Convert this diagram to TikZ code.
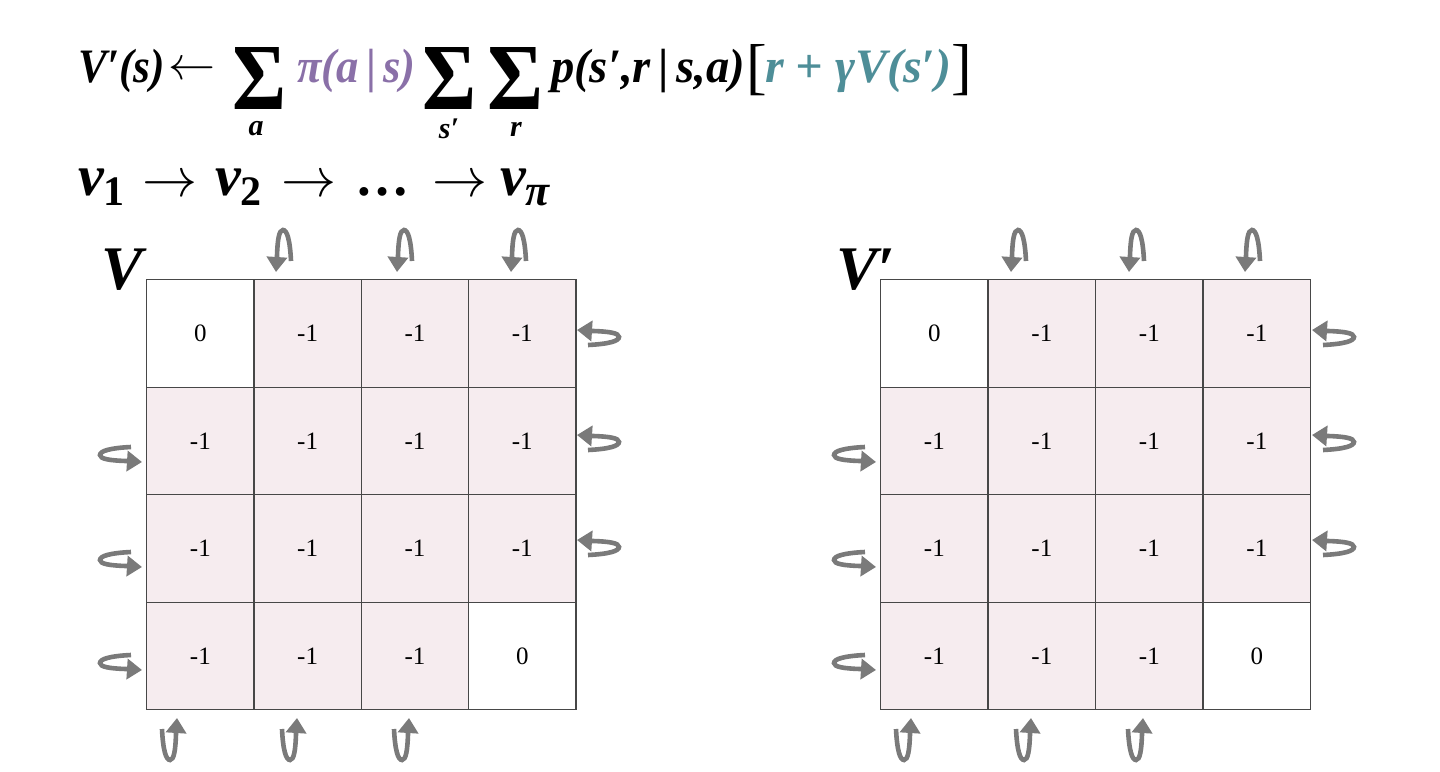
\documentclass[tikz,border=0pt]{standalone}
\usepackage{fontspec}
\setmainfont{Liberation Serif}
\usetikzlibrary{arrows.meta}
\definecolor{cellpink}{HTML}{F6ECEF}
\definecolor{gridline}{HTML}{474747}
\definecolor{loopgray}{HTML}{7A7A7A}
\definecolor{pipurple}{HTML}{8A70A8}
\definecolor{tealc}{HTML}{4E8E98}
\newcommand{\hsq}[2]{\scalebox{#1}[1]{#2}}
\tikzset{
  cell/.style={draw=gridline, line width=1.4pt, minimum width=107.3pt, minimum height=107.5pt, inner sep=0pt, font=\fontsize{25}{25}\selectfont, anchor=north west},
  pinkcell/.style={cell, fill=cellpink},
  whitecell/.style={cell, fill=white},
  formula/.style={font=\fontsize{48}{48}\selectfont\bfseries\itshape, inner sep=0pt, anchor=base west},
  chainpart/.style={font=\fontsize{58}{58}\selectfont\bfseries\itshape, inner sep=0pt, anchor=base west},
  arrowsym/.style={inner sep=0pt, anchor=west},
  subs/.style={font=\fontsize{30}{30}\selectfont\bfseries\itshape, inner sep=0pt},
  bigsum/.style={inner sep=0pt},
  bracket/.style={font=\fontsize{62}{62}\selectfont\normalfont, inner sep=0pt, anchor=base west},
  gridlabel/.style={font=\fontsize{62}{62}\selectfont\bfseries\itshape, inner sep=0pt, anchor=base west},
  selfloop/.pic={
    \draw[draw=loopgray, line width=4.6pt, -{Triangle[length=15pt,width=20pt]}]
      (15,-11) .. controls (14,-32) and (11,-42) .. (7,-42)
      .. controls (3,-42) and (1.5,-32) .. (1,-16) -- (0,0);
  }
}
\begin{document}
\begin{tikzpicture}[x=1pt,y=-1pt]
\useasboundingbox[fill=white] (0,0) rectangle (1440,771);

% ---- formula line 1
\node[formula] (lhs) at (78,82) {\hsq{0.9}{V′(s)}};
\node[arrowsym] (larr) at (168,71) {\resizebox{47pt}{!}{$\leftarrow$}};
\node[bigsum] (sum1) at (260,78) {\resizebox*{54pt}{62pt}{\bfseries Σ}};
\node[subs] (suba) at (256,129) {a};
\node[formula, text=pipurple] (pol) at (297,82) {\hsq{0.93}{π(a\,\textup{|}\,s)}};
\node[bigsum] (sum2) at (450,78) {\resizebox*{54pt}{62pt}{\bfseries Σ}};
\node[subs] (subs) at (449,129) {s′};
\node[bigsum] (sum3) at (516,78) {\resizebox*{56pt}{62pt}{\bfseries Σ}};
\node[subs] (subr) at (516,129) {r};
\node[formula] (prob) at (551,82) {\hsq{0.97}{p(s′,r\,\textup{|}\,s,a)}};
\node[bracket] (lbr) at (746,87) {[};
\node[formula, text=tealc] (ret) at (765,82) {r + γV(s′)};
\node[bracket] (rbr) at (951,87) {]};

% ---- formula line 2
\node[chainpart] (v1) at (78,195) {v\raisebox{-10pt}{\fontsize{42}{42}\selectfont\upshape 1}};
\node[arrowsym] (a1) at (142,186) {\resizebox{55pt}{!}{$\rightarrow$}};
\node[chainpart] (v2) at (215,195) {v\raisebox{-10pt}{\fontsize{42}{42}\selectfont\upshape 2}};
\node[arrowsym] (a2) at (281,186) {\resizebox{55pt}{!}{$\rightarrow$}};
\node[chainpart, font=\fontsize{54}{54}\selectfont\bfseries] (dots) at (355,195) {…};
\node[arrowsym] (a3) at (432,186) {\resizebox{55pt}{!}{$\rightarrow$}};
\node[chainpart] (vpi) at (500,195) {v\raisebox{-10pt}{\fontsize{44}{44}\selectfont π}};

% ---- grid labels
\node[gridlabel] (Vlab) at (101,289) {V};
\node[gridlabel] (Vplab) at (836,289) {V′};

% ---- left grid
\foreach \r in {1,...,4}{
  \foreach \c in {1,...,4}{
    \pgfmathsetmacro{\xx}{146+(\c-1)*107.3}
    \pgfmathsetmacro{\yy}{279+(\r-1)*107.5}
    \ifnum\r\c=11
      \node[whitecell] (L\r\c) at (\xx,\yy) {0};
    \else\ifnum\r\c=44
      \node[whitecell] (L\r\c) at (\xx,\yy) {0};
    \else
      \node[pinkcell] (L\r\c) at (\xx,\yy) {-1};
    \fi\fi
  }
}
% ---- right grid
\foreach \r in {1,...,4}{
  \foreach \c in {1,...,4}{
    \pgfmathsetmacro{\xx}{880+(\c-1)*107.5}
    \pgfmathsetmacro{\yy}{279+(\r-1)*107.5}
    \ifnum\r\c=11
      \node[whitecell] (R\r\c) at (\xx,\yy) {0};
    \else\ifnum\r\c=44
      \node[whitecell] (R\r\c) at (\xx,\yy) {0};
    \else
      \node[pinkcell] (R\r\c) at (\xx,\yy) {-1};
    \fi\fi
  }
}

% ---- self loops, left grid
\foreach \x in {276,397,511}{ \pic at (\x,272) {selfloop}; }
\foreach \y in {330,435,540}{ \pic[rotate=-90] at (577,\y) {selfloop}; }
\foreach \y in {462,567,670}{ \pic[rotate=90] at (142,\y) {selfloop}; }
\foreach \x in {177,297,409}{ \pic[rotate=180] at (\x,718) {selfloop}; }
% ---- self loops, right grid
\foreach \x in {1011,1129,1245}{ \pic at (\x,272) {selfloop}; }
\foreach \y in {330,435,540}{ \pic[rotate=-90] at (1312,\y) {selfloop}; }
\foreach \y in {462,567,670}{ \pic[rotate=90] at (876,\y) {selfloop}; }
\foreach \x in {911,1031,1143}{ \pic[rotate=180] at (\x,718) {selfloop}; }
\end{tikzpicture}
\end{document}
